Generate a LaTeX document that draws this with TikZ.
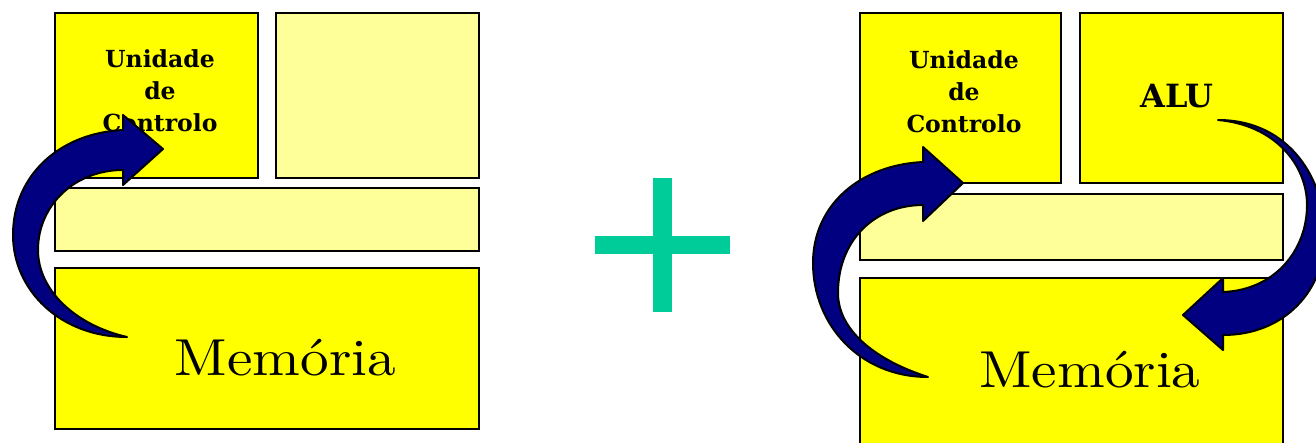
\documentclass[tikz,border=0pt]{standalone}
\usepackage{graphicx}
\usepackage{fontspec}
\newfontfamily\lblfont{DejaVu Serif}
\newfontfamily\lmten{lmroman10-regular.otf}
\definecolor{yel}{RGB}{255,255,0}
\definecolor{lyel}{RGB}{255,255,153}
\definecolor{navyb}{RGB}{0,0,128}
\definecolor{plusc}{RGB}{0,204,153}
\begin{document}
\begin{tikzpicture}[x=1pt,y=-1pt,
  bx/.style={draw=black,line width=2.2pt,inner sep=0pt,anchor=north west},
  dk/.style={bx,fill=yel},
  lt/.style={bx,fill=lyel},
  lbl/.style={inner sep=0pt,align=center,font=\lblfont\fontsize{23.5}{32}\selectfont\bfseries},
  mem/.style={inner sep=0pt,anchor=base,font=\lmten\fontsize{52}{60}\selectfont},
  blk/.style={fill=navyb,draw=black,line width=2pt,line join=round}]
\useasboundingbox (0,0) rectangle (1316,442);
\clip (0,0) rectangle (1316,442);
% left panel
\node[dk,minimum width=203,minimum height=165] (ucA) at (54,12) {};
\node[lt,minimum width=203,minimum height=165] (emA) at (275,12) {};
\node[lt,minimum width=424,minimum height=63] (busA) at (54,187) {};
\node[dk,minimum width=424,minimum height=161] (memA) at (54,267) {};
\node[lbl,anchor=north] (tA) at (160,49) {Unidade\\de\\Controlo};
\node[mem] (mA) at (285.5,375) {\scalebox{1.1}[1]{Memória}};
% plus
\fill[plusc] (653,178) rectangle (672,312);
\fill[plusc] (595,236) rectangle (730,254);
% right panel
\node[dk,minimum width=201,minimum height=170] (ucB) at (859,12) {};
\node[dk,minimum width=203,minimum height=170] (alu) at (1079,12) {};
\node[lt,minimum width=423,minimum height=66] (busB) at (859,193) {};
\node[dk,minimum width=423,minimum height=200] (memB) at (859,277) {};
\node[lbl,anchor=north] (tB) at (964,50) {Unidade\\de\\Controlo};
\node[inner sep=0pt,anchor=base,font=\lblfont\fontsize{32}{40}\selectfont\bfseries] (tC) at (1177,107) {ALU};
\node[mem] (mB) at (1090,387) {\scalebox{1.1}[1]{Memória}};
% arrows
\draw[blk] (127,337) .. controls (60,337) and (13,290) .. (13,235)
  .. controls (13,175) and (60,133) .. (123,130) -- (123,115) -- (163,149) -- (123,185) -- (123,170)
  .. controls (75,170) and (38,205) .. (38,250) .. controls (38,290) and (75,325) .. (127,337) -- cycle;
\draw[blk] (928,377) .. controls (860,377) and (813,325) .. (813,263)
  .. controls (813,205) and (860,165) .. (923,162) -- (923,147) -- (963,183) -- (923,221) -- (923,205)
  .. controls (875,205) and (838,240) .. (838,293) .. controls (838,330) and (875,360) .. (928,377) -- cycle;
\draw[blk] (1218,120) .. controls (1290,120) and (1325,180) .. (1325,235)
  .. controls (1325,290) and (1285,335) .. (1223,335) -- (1223,350) -- (1183,315) -- (1223,278) -- (1223,292)
  .. controls (1275,290) and (1307,250) .. (1307,205) .. controls (1307,165) and (1275,125) .. (1218,120) -- cycle;
\end{tikzpicture}
\end{document}
